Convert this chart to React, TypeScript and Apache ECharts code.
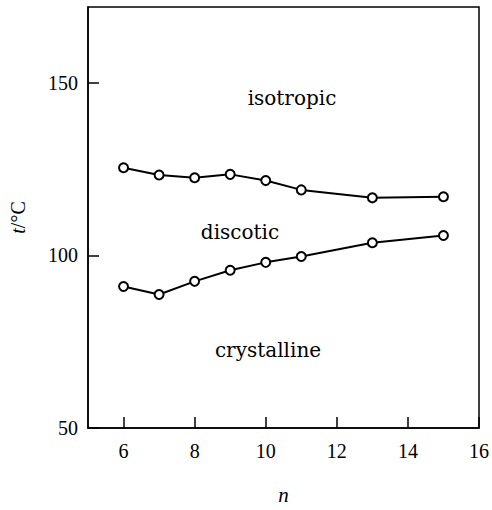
import React, { useEffect, useRef } from "react";
import * as echarts from "echarts";

const nValues = [6, 7, 8, 9, 10, 11, 13, 15];
const clearingT = [125.4, 123.3, 122.5, 123.5, 121.7, 119.0, 116.7, 117.0];
const meltingT = [91.0, 88.7, 92.5, 95.7, 98.0, 99.7, 103.7, 105.8];
const xTickValues = [6, 8, 10, 12, 14, 16];
const yTickValues = [50, 100, 150];
const phaseLabels = ["isotropic", "discotic", "crystalline"];

const FONT = "'Liberation Serif', 'DejaVu Serif', serif";
const LABEL_FONT = "'DejaVu Serif', 'Liberation Serif', serif";

export default function App() {
  const ref = useRef<HTMLDivElement>(null);
  useEffect(() => {
    if (!ref.current) return;
    const chart = echarts.init(ref.current, null, { renderer: "svg" });
    const pair = (ys: number[]) => nValues.map((n, i) => [n, ys[i]]);
    const seriesStyle = {
      type: "line" as const,
      symbol: "circle",
      symbolSize: 9,
      lineStyle: { color: "#000", width: 2 },
      itemStyle: { color: "#fff", borderColor: "#000", borderWidth: 2 },
      silent: true,
    };
    const label = (text: string, x: number, y: number) => ({
      type: "text",
      x,
      y,
      style: {
        text,
        font: `20px ${LABEL_FONT}`,
        fill: "#000",
        align: "center",
        verticalAlign: "middle",
      },
    });
    chart.setOption({
      animation: false,
      backgroundColor: "#fff",
      grid: {
        left: 83,
        right: 9,
        top: 7,
        bottom: 69,
        show: true,
        borderColor: "#000",
        borderWidth: 1.5,
        backgroundColor: "transparent",
      },
      xAxis: {
        type: "value",
        min: 5,
        max: 16,
        name: "n",
        nameLocation: "middle",
        nameGap: 56,
        nameTextStyle: { fontFamily: FONT, fontSize: 21, fontStyle: "italic", color: "#000" },
        axisLine: { show: true, lineStyle: { color: "#000", width: 1.5 } },
        axisTick: { show: true, inside: true, length: 11, customValues: xTickValues, lineStyle: { color: "#000", width: 1.5 } },
        axisLabel: { customValues: xTickValues, fontFamily: FONT, fontSize: 20, color: "#000", margin: 13 },
        splitLine: { show: false },
      },
      yAxis: {
        type: "value",
        min: 50,
        max: 172,
        name: "{i|t}/°C",
        nameLocation: "middle",
        nameGap: 60,
        nameRotate: 90,
        nameTextStyle: {
          fontFamily: FONT,
          fontSize: 20,
          color: "#000",
          rich: { i: { fontFamily: FONT, fontSize: 20, fontStyle: "italic", color: "#000" } },
        },
        axisLine: { show: true, lineStyle: { color: "#000", width: 1.5 } },
        axisTick: { show: true, inside: true, length: 11, customValues: yTickValues, lineStyle: { color: "#000", width: 1.5 } },
        axisLabel: { customValues: yTickValues, fontFamily: FONT, fontSize: 20, color: "#000", margin: 10 },
        splitLine: { show: false },
      },
      graphic: [
        label(phaseLabels[0], 292, 98),
        label(phaseLabels[1], 240, 232),
        label(phaseLabels[2], 268, 350),
      ],
      series: [
        { ...seriesStyle, data: pair(clearingT) },
        { ...seriesStyle, data: pair(meltingT) },
      ],
    });
    return () => chart.dispose();
  }, []);
  return (
    <div
      ref={ref}
      style={{ position: "absolute", left: 0, top: 0, width: 492, height: 510 }}
    />
  );
}
